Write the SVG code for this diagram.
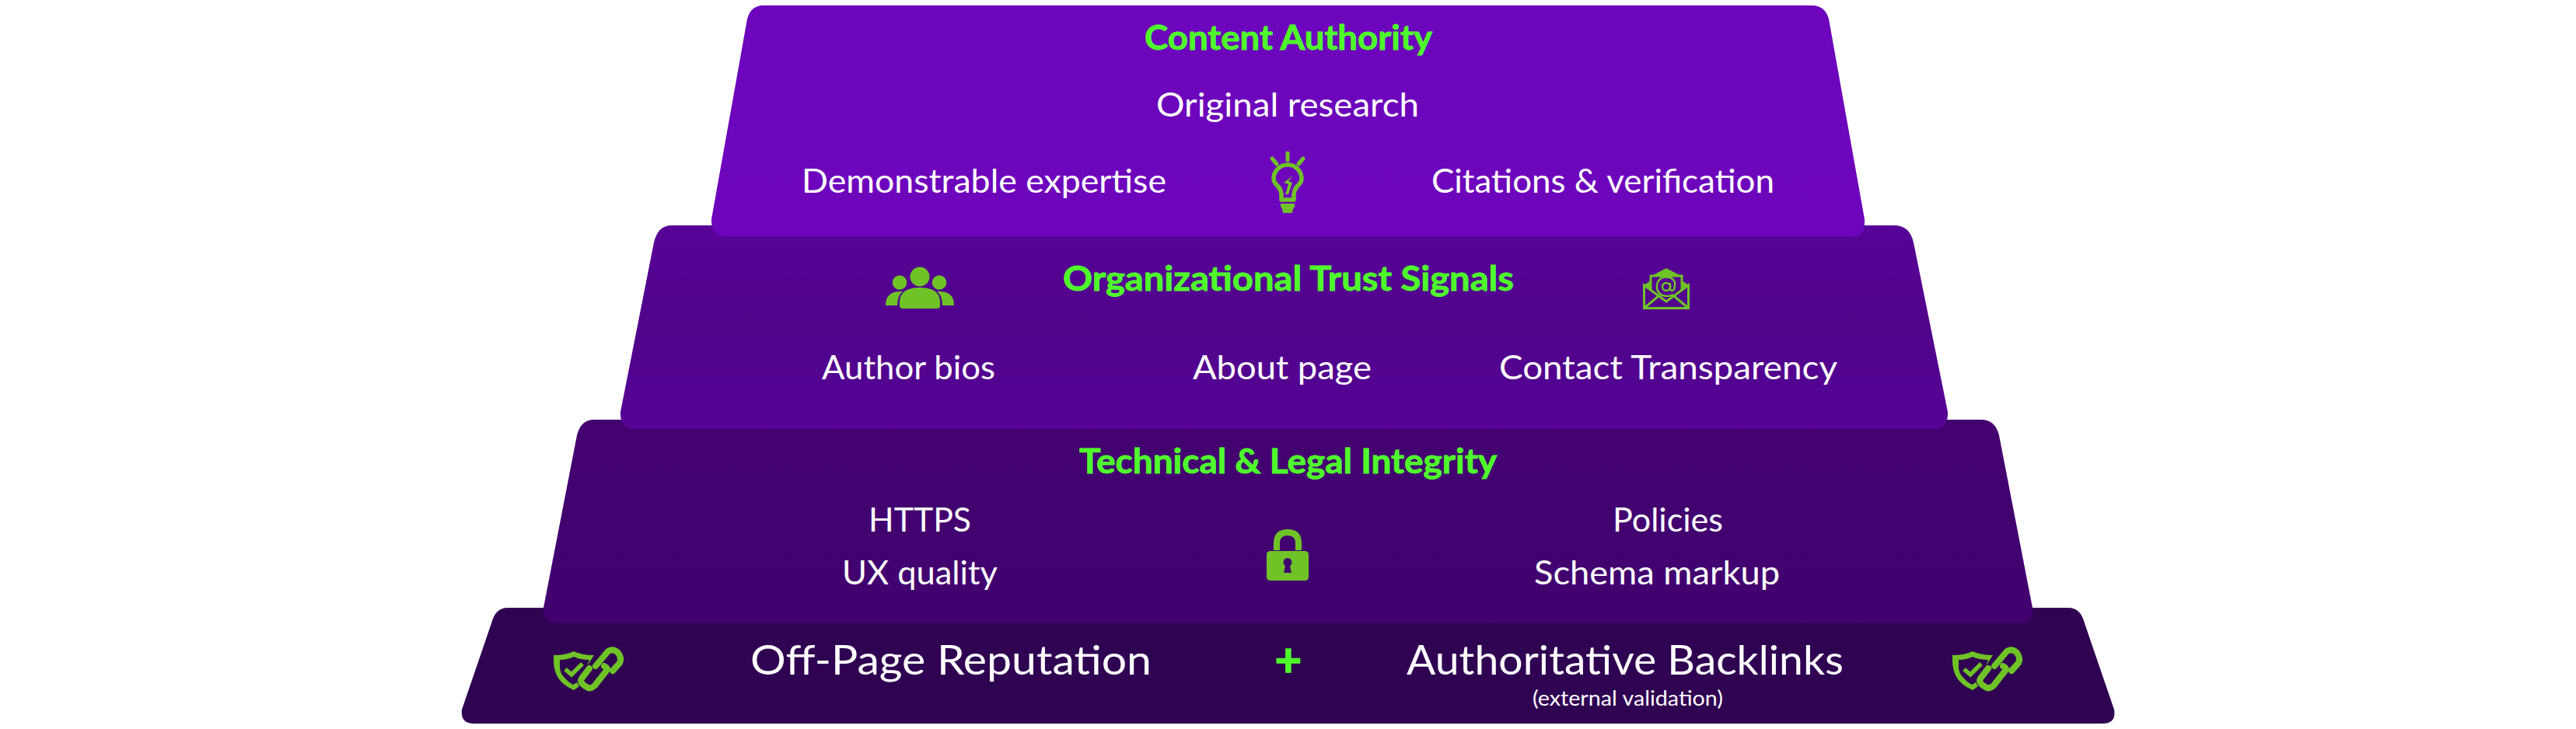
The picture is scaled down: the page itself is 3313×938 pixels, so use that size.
<svg xmlns="http://www.w3.org/2000/svg" width="3313" height="938" viewBox="0 0 3313 938">
<defs>
<linearGradient id="g1" x1="0" y1="0" x2="0" y2="1"><stop offset="0" stop-color="#6c05bb"/><stop offset="1" stop-color="#6e05bd"/></linearGradient>
<linearGradient id="g2" x1="0" y1="0" x2="0" y2="1"><stop offset="0" stop-color="#580398"/><stop offset="0.5" stop-color="#50038b"/><stop offset="1" stop-color="#560396"/></linearGradient>
<linearGradient id="g3" x1="0" y1="0" x2="0" y2="1"><stop offset="0" stop-color="#430270"/><stop offset="1" stop-color="#410270"/></linearGradient>
<g id="shieldlink">
<path d="M712 843 Q728 843 738 838 Q748 843 764 843 L755 857 L758 849 Q746 849 738 845 Q730 849 720 849 V858 Q720 866 726 872 Q730 877 737 881 L742 878 L745 883 L738 888 Q722 881 716 869 Q712 860 712 850 Z" class="ic"/>
<path d="M727 861 L735 868 L749 854" fill="none" class="is" stroke-width="5.500"/>
<path d="M766 857 L782 838 Q789 834 795 840 Q800 847 797 853 L788 863" fill="none" class="is" stroke-width="8" stroke-linecap="round" stroke-linejoin="round"/>
<path d="M777 857 Q783 860 780 863 L765 882 Q759 888 753 883 Q745 878 748 873 L758 860" fill="none" class="is" stroke-width="8" stroke-linecap="round" stroke-linejoin="round"/>
</g>
</defs>
<style>
text{font-family:"Lato","Liberation Sans",sans-serif;text-anchor:middle}
.t{fill:#4ffc2b;stroke:#4ffc2b;stroke-width:0.8px;font-weight:700;font-size:43px}
.w{fill:#fff;font-size:43px}
.b{fill:#fff;font-size:53px}
.s{fill:#fff;font-size:26px}
.p{font-size:60px;stroke-width:1.500px}
.ic{fill:#6fc327}
.is{stroke:#6fc327}
</style>
<g id="tier-offpage">
<path d="M653 782 H2660 Q2676 782 2681 802 L2719 913 Q2722 931 2704 931 H609 Q592 931 594 913 L632 802 Q637 782 653 782 Z" fill="#2f0252"/>
<text class="b" x="1223" y="868" textLength="516" lengthAdjust="spacingAndGlyphs">Off-Page Reputation</text>
<text class="t p" x="1657" y="870">+</text>
<text class="b" x="2090" y="868" textLength="562" lengthAdjust="spacingAndGlyphs">Authoritative Backlinks</text>
<text class="s" x="2093.500" y="908" textLength="245" lengthAdjust="spacingAndGlyphs">(external validation)</text>
<use href="#shieldlink"/>
<use href="#shieldlink" x="1799"/>
</g>
<g id="tier-technical">
<path d="M764 540 H2548 Q2566 540 2571 560 L2614 782 Q2615 802 2598 802 H716 Q698 802 699 782 L742 560 Q747 540 764 540 Z" fill="url(#g3)"/>
<text class="t" x="1656.500" y="609" textLength="537" lengthAdjust="spacingAndGlyphs">Technical &amp; Legal Integrity</text>
<text class="w" x="1183" y="684" textLength="132" lengthAdjust="spacingAndGlyphs">HTTPS</text>
<text class="w" x="1183" y="752" textLength="200" lengthAdjust="spacingAndGlyphs">UX quality</text>
<text class="w" x="2145" y="684" textLength="142" lengthAdjust="spacingAndGlyphs">Policies</text>
<text class="w" x="2131" y="752" textLength="316" lengthAdjust="spacingAndGlyphs">Schema markup</text>
<path d="M1642 708 V699 Q1642 685 1656 685 Q1670 685 1670 699 V708" fill="none" class="is" stroke-width="8"/>
<path d="M1634 709 H1678 Q1683 709 1683 714 V742 Q1683 747 1678 747 H1634 Q1629 747 1629 742 V714 Q1629 709 1634 709 Z M1656 718 A5.500 5.500 0 0 0 1653 728 L1651 737 H1661 L1659 728 A5.500 5.500 0 0 0 1656 718 Z" class="ic" fill-rule="evenodd"/>
</g>
<g id="tier-trust">
<path d="M864 290 H2436 Q2456 290 2461 312 L2505 530 Q2506 552 2486 552 H818 Q797 552 798 530 L841 312 Q846 290 864 290 Z" fill="url(#g2)"/>
<text class="t" x="1657" y="374" textLength="580" lengthAdjust="spacingAndGlyphs">Organizational Trust Signals</text>
<text class="w" x="1168.500" y="488" textLength="223" lengthAdjust="spacingAndGlyphs">Author bios</text>
<text class="w" x="1649" y="488" textLength="230" lengthAdjust="spacingAndGlyphs">About page</text>
<text class="w" x="2145.500" y="488" textLength="435" lengthAdjust="spacingAndGlyphs">Contact Transparency</text>
<circle cx="1183" cy="356" r="12.500" class="ic"/>
<circle cx="1157" cy="363.500" r="9.300" class="ic"/>
<circle cx="1208" cy="363.500" r="9.300" class="ic"/>
<path d="M1157 388 Q1158 370 1183 370 Q1208 370 1209 388 V393 Q1209 397 1205 397 H1161 Q1157 397 1157 393 Z" class="ic"/>
<path d="M1139 393 Q1139 376 1156 375 L1161 375 Q1154 380 1154 393 Z M1227 393 Q1227 376 1210 375 L1205 375 Q1212 380 1212 393 Z" class="ic"/>
<path d="M2124 355 L2143 345 L2162 355 Z" class="ic"/>
<path d="M2114 367 L2123 361 V375 Z M2172 367 L2163 361 V375 Z" class="ic"/>
<path d="M2114.500 367 V396.500 H2171.500 V367 L2143 388 Z M2114.500 396.500 L2133 381 M2171.500 396.500 L2153 381 M2123 373 V355 H2163 V373" fill="none" class="is" stroke-width="3"/>
<circle cx="2143" cy="369" r="5" fill="none" class="is" stroke-width="2.500"/>
<path d="M2148 364 V372 Q2150 376 2153 372 Q2157 360 2147 357 Q2134 354 2131 366 Q2130 380 2143 381 Q2149 381 2152 379" fill="none" class="is" stroke-width="2.500"/>
</g>
<g id="tier-content">
<path d="M982 7 H2330 Q2350 7 2353 30 L2398 282 Q2399 304 2384 304 H935 Q914 304 915 282 L960 30 Q963 7 982 7 Z" fill="url(#g1)"/>
<text class="t" x="1657" y="64" textLength="370" lengthAdjust="spacingAndGlyphs">Content Authority</text>
<text class="w" x="1656" y="150" textLength="338" lengthAdjust="spacingAndGlyphs">Original research</text>
<text class="w" x="1265.500" y="248" textLength="469" lengthAdjust="spacingAndGlyphs">Demonstrable expertise</text>
<text class="w" x="2061.500" y="248" textLength="441" lengthAdjust="spacingAndGlyphs">Citations &amp; verification</text>
<path d="M1656 197 V206 M1636 204 L1642 211 M1676 204 L1670 211" fill="none" class="is" stroke-width="5" stroke-linecap="round"/>
<path d="M1648 257 V250 Q1647 242 1642 238 Q1638 234 1638 230 A18 18 0 0 1 1674 230 Q1674 234 1670 238 Q1665 242 1664 250 V257 Z" fill="none" class="is" stroke-width="5.500" stroke-linejoin="round"/>
<path d="M1663 226 L1651 235 L1657 237 L1653 250 H1657 L1662 235 L1657 233 Z" class="ic"/>
<path d="M1647 262 H1665 V266 Q1663 267 1662 274 H1650 Q1649 267 1647 266 Z" class="ic"/>
</g>
</svg>
